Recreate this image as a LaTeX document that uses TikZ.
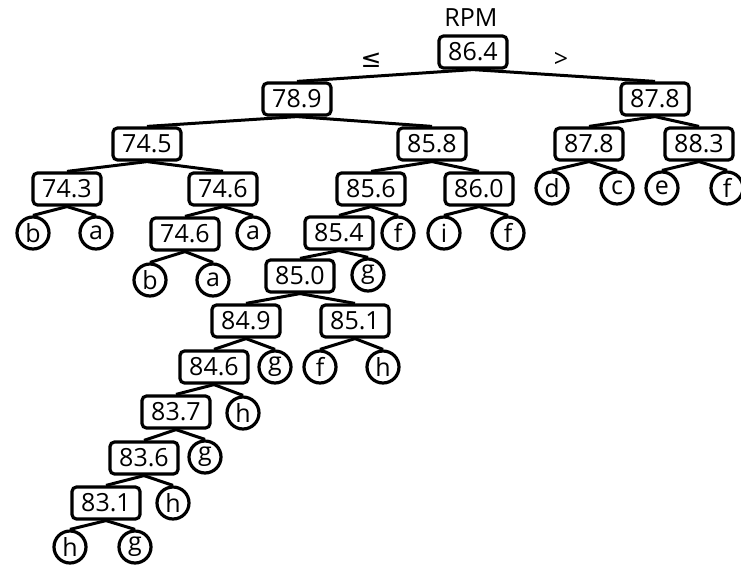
\documentclass[tikz,border=0pt]{standalone}
\usepackage{fontspec}
\setmainfont{Open Sans}
\newfontfamily\symfont{DejaVu Sans}
\begin{document}
\begin{tikzpicture}[x=1pt,y=-1pt,
  lbl/.style={font=\fontsize{25}{25}\selectfont},
  split/.style={draw, line width=3.2pt, rounded corners=4.5pt, fill=white,
    minimum width=68pt, minimum height=32pt, inner sep=0pt, lbl},
  leaf/.style={draw, circle, line width=3.2pt, fill=white,
    minimum size=32pt, inner sep=0pt, lbl},
  branch/.style={line width=3pt}]
\useasboundingbox (0,0) rectangle (741,565);

% internal split nodes
\node[split] (root) at (473,52) {86.4};
\node[split] (n789) at (297,99) {78.9};
\node[split] (n878a) at (655,99) {87.8};
\node[split] (n745) at (147,144) {74.5};
\node[split] (n858) at (432,144) {85.8};
\node[split] (n878b) at (589,144) {87.8};
\node[split] (n883) at (699,144) {88.3};
\node[split] (n743) at (67,189) {74.3};
\node[split] (n746a) at (223,189) {74.6};
\node[split] (n856) at (371,189) {85.6};
\node[split] (n860) at (479,189) {86.0};
\node[split] (n746b) at (185,234) {74.6};
\node[split] (n854) at (339,233) {85.4};
\node[split] (n850) at (300,276) {85.0};
\node[split] (n849) at (246,321) {84.9};
\node[split] (n851) at (355,321) {85.1};
\node[split] (n846) at (214,367) {84.6};
\node[split] (n837) at (176,412) {83.7};
\node[split] (n836) at (144,458) {83.6};
\node[split] (n831) at (106,503) {83.1};

% leaves
\node[leaf] (lb1) at (33,233) {b};
\node[leaf] (la1) at (96,233) {a};
\node[leaf] (la2) at (253,233) {a};
\node[leaf] (lf1) at (398,233) {f};
\node[leaf] (li) at (444,233) {i};
\node[leaf] (lf2) at (508,233) {f};
\node[leaf] (ld) at (552,188) {d};
\node[leaf] (lc) at (617,188) {c};
\node[leaf] (le) at (662,188) {e};
\node[leaf] (lf3) at (727,188) {f};
\node[leaf] (lb2) at (150,280) {b};
\node[leaf] (la3) at (213,280) {a};
\node[leaf] (lg1) at (368,275) {g};
\node[leaf] (lg2) at (275,367) {g};
\node[leaf] (lf4) at (320,367) {f};
\node[leaf] (lh1) at (383,367) {h};
\node[leaf] (lh2) at (243,413) {h};
\node[leaf] (lg3) at (205,457) {g};
\node[leaf] (lh3) at (173,503) {h};
\node[leaf] (lh4) at (70,547) {h};
\node[leaf] (lg4) at (135,547) {g};

% labels
\node[lbl] (title) at (471,18) {RPM};
\node[lbl] (le_sym) at (371,60) {\symfont ≤};
\node[lbl] (gt_sym) at (561,60) {>};

% branches
\foreach \p/\c in {root/n789, root/n878a,
  n789/n745, n789/n858, n878a/n878b, n878a/n883,
  n745/n743, n745/n746a, n858/n856, n858/n860,
  n743/lb1, n743/la1, n746a/n746b, n746a/la2,
  n856/n854, n856/lf1, n860/li, n860/lf2,
  n878b/ld, n878b/lc, n883/le, n883/lf3,
  n746b/lb2, n746b/la3, n854/n850, n854/lg1,
  n850/n849, n850/n851, n849/n846, n849/lg2,
  n851/lf4, n851/lh1, n846/n837, n846/lh2,
  n837/n836, n837/lg3, n836/n831, n836/lh3,
  n831/lh4, n831/lg4}
  \draw[branch] (\p.south) -- (\c.north);
\end{tikzpicture}
\end{document}
